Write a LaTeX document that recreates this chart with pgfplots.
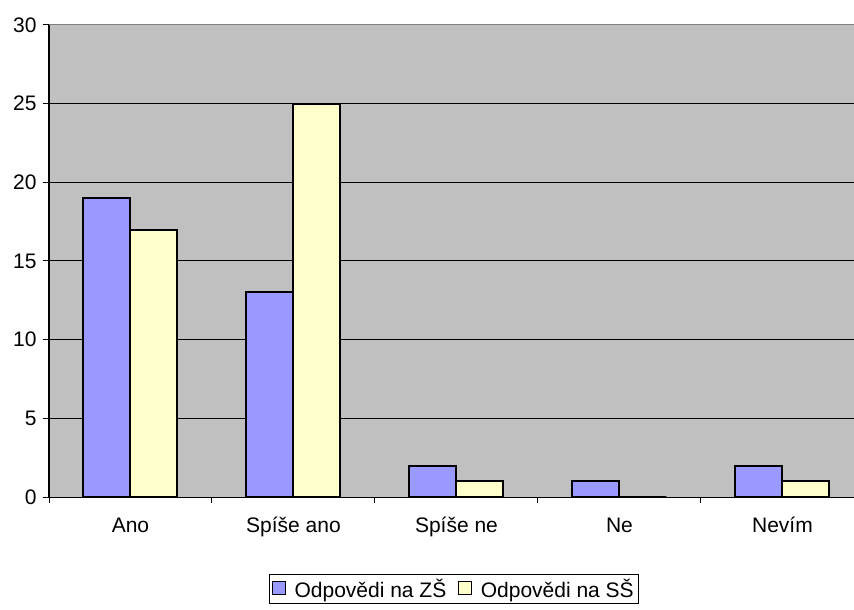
\documentclass[border=0pt]{standalone}
\usepackage{pgfplots}
\pgfplotsset{compat=1.18}
\usepackage{fontspec}
\setmainfont{Liberation Sans}
\definecolor{barblue}{HTML}{9999FF}
\definecolor{baryellow}{HTML}{FFFFCC}
\definecolor{plotgray}{HTML}{C0C0C0}
\definecolor{bordergray}{HTML}{808080}
\begin{document}
\begin{tikzpicture}
\begin{axis}[
  scale only axis, width=805pt, height=472pt,
  at={(0,0)}, anchor=south west,
  xmin=-0.5, xmax=4.439, ymin=0, ymax=30,
  ybar=0pt, bar width=47pt,
  clip=false,
  axis background/.style={fill=plotgray},
  axis line style={draw=none},
  tick pos=left, tick align=outside,
  xtick={0,1,2,3,4},
  xticklabels={Ano, Spíše ano, Spíše ne, Ne, Nevím},
  major x tick style={draw=none},
  minor xtick={-0.5,0.5,1.5,2.5,3.5},
  minor x tick style={black, line width=1pt},
  minor tick length=6pt,
  major tick length=6pt,
  ytick={5,10,15,20,25},
  extra y ticks={0,30},
  extra y tick style={grid=none},
  ymajorgrids,
  major grid style={black, line width=1pt},
  y tick style={black, line width=1pt},
  /pgf/number format/assume math mode=true,
  tick label style={font=\fontsize{21}{25}\selectfont},
  xticklabel style={yshift=-9pt, text height=17pt, text depth=5pt},
  yticklabel style={xshift=-3pt},
  legend entries={Odpovědi na ZŠ, Odpovědi na SŠ},
  legend columns=2,
  legend style={at={(0.503,-0.195)}, anchor=center, draw=black, line width=1pt,
    font=\fontsize{21}{25}\selectfont, inner sep=3pt,
    /tikz/every even column/.append style={column sep=10pt}},
  legend image code/.code={\draw[#1, line width=1pt] (0pt,-5pt) rectangle (13pt,8pt); \path (19pt,0pt);},
]
\addplot[fill=barblue, draw=black, line width=2pt] coordinates {(0,19) (1,13) (2,2) (3,1) (4,2)};
\addplot[fill=baryellow, draw=black, line width=2pt] coordinates {(0,17) (1,25) (2,1) (3,0) (4,1)};
\draw[bordergray, line width=1pt] (rel axis cs:0,1) -- (rel axis cs:1,1);
\draw[black, line width=1pt] (rel axis cs:0,0) -- (rel axis cs:1,0);
\draw[black, line width=1.2pt] (rel axis cs:0,0) -- (rel axis cs:0,1);
\end{axis}
\pgfresetboundingbox
\path[use as bounding box] (-49pt,-113pt) rectangle (805pt,497pt);
\end{tikzpicture}
\end{document}
